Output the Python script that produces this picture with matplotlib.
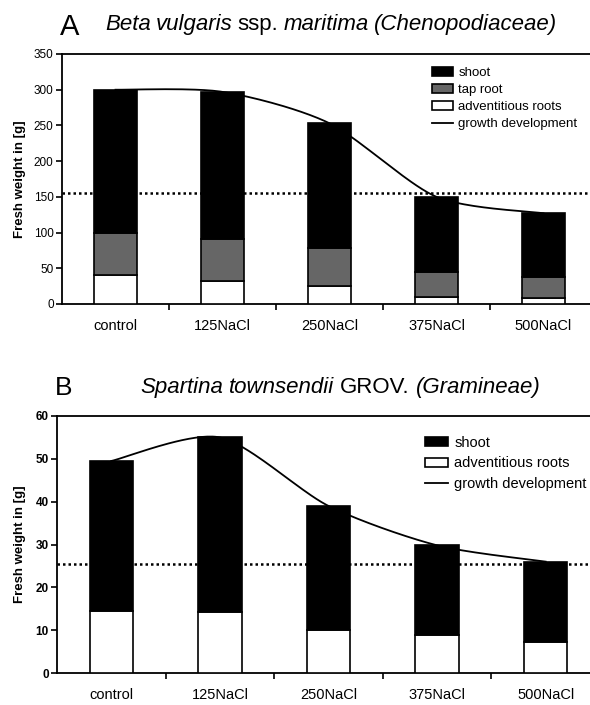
import numpy as np
import matplotlib.pyplot as plt
from matplotlib.patches import Patch
from matplotlib.lines import Line2D

plt.rcParams['font.family'] = ['Liberation Sans', 'DejaVu Sans']

treatments = ['control', '125NaCl', '250NaCl', '375NaCl', '500NaCl']

# Beta vulgaris ssp. maritima, fresh weight [g] per organ
beta_adventitious = [40, 32, 25, 10, 8]
beta_taproot = [60, 59, 53, 35, 30]
beta_shoot = [200, 206, 175, 105, 89]
beta_half = 155

# Spartina townsendii, fresh weight [g] per organ
spartina_adventitious = [14.5, 14.2, 10.0, 8.8, 7.2]
spartina_shoot = [35.0, 40.8, 29.0, 21.0, 18.8]
spartina_half = 25.5


def smooth_line(x, y, n=40, tension=0.4):
    # cardinal spline through the points, like a smoothed spreadsheet line
    x = np.asarray(x, float)
    y = np.asarray(y, float)
    px = np.r_[x[0], x, x[-1]]
    py = np.r_[y[0], y, y[-1]]
    t = np.linspace(0, 1, n)
    h00 = 2 * t ** 3 - 3 * t ** 2 + 1
    h10 = t ** 3 - 2 * t ** 2 + t
    h01 = -2 * t ** 3 + 3 * t ** 2
    h11 = t ** 3 - t ** 2
    xs, ys = [], []
    for i in range(1, len(px) - 2):
        for p, out in ((px, xs), (py, ys)):
            m1 = tension * (p[i + 1] - p[i - 1])
            m2 = tension * (p[i + 2] - p[i])
            out.append(h00 * p[i] + h10 * m1 + h01 * p[i + 1] + h11 * m2)
    return np.concatenate(xs), np.concatenate(ys)


def draw_panel(ax, layers, colors, labels, half, ymax, ystep, bold_ticks, legend_box, legend_fs, spacing):
    x = np.arange(len(treatments))
    total = np.sum(layers, axis=0)
    gx, gy = smooth_line(x, total)
    ax.plot(gx, gy, color='black', lw=1.3, zorder=1)
    ax.axhline(half, color='black', lw=1.8, ls=(0, (1, 1.2)), zorder=1)
    bottom = np.zeros(len(x))
    for vals, c in zip(layers, colors):
        ax.bar(x, vals, 0.4, bottom=bottom, color=c, edgecolor='black', lw=1.2, zorder=3)
        bottom = bottom + np.asarray(vals)
    ax.set_xlim(-0.5, 4.5)
    ax.set_ylim(0, ymax)
    ax.set_yticks(np.arange(0, ymax + 1, ystep))
    ax.set_xticks(np.arange(0.5, 4.5, 1))
    ax.set_xticklabels([])
    ax.set_xticks(x, minor=True)
    ax.set_xticklabels(treatments, minor=True, fontsize=10.5)
    ax.tick_params(axis='x', which='major', length=4, width=1.2)
    ax.tick_params(axis='x', which='minor', length=0, pad=11)
    ax.tick_params(axis='y', length=4, width=1.2, labelsize=8.5, pad=2)
    if bold_ticks:
        for lb in ax.get_yticklabels():
            lb.set_fontweight('bold')
    for s in ax.spines.values():
        s.set_linewidth(1.3)
    ax.set_ylabel('Fresh weight in [g]', fontsize=9.5, fontweight='bold')
    handles = [Patch(facecolor=c, edgecolor='black', lw=1.2) for c in colors][::-1]
    handles.append(Line2D([], [], color='black', lw=1.3))
    ax.legend(handles, labels, loc='upper left', bbox_to_anchor=legend_box,
              bbox_transform=ax.figure.transFigure, frameon=False, fontsize=legend_fs,
              handlelength=1.6, handleheight=0.6, handletextpad=0.4,
              labelspacing=spacing, borderpad=0, borderaxespad=0)


def title_line(fig, x_px, y_px, parts, fontsize, gap=5):
    # words set one after another so italic and upright pieces can mix
    r = fig.canvas.get_renderer()
    x = x_px
    for word, style in parts:
        t = fig.text(x / 590, 1 - y_px / 705, word, fontsize=fontsize,
                     style=style, va='baseline')
        x += t.get_window_extent(renderer=r).width + gap


fig = plt.figure(figsize=(5.9, 7.05), dpi=100)

ax1 = fig.add_axes([62 / 590, 1 - 304 / 705, 535 / 590, 250 / 705])
draw_panel(ax1, [beta_adventitious, beta_taproot, beta_shoot],
           ['white', '#666666', 'black'],
           ['shoot', 'tap root', 'adventitious roots', 'growth development'],
           beta_half, 350, 50, False, (432 / 590, 1 - 67 / 705), 9.5, 0.38)
ax1.yaxis.set_label_coords(-0.067, 0.5)

ax2 = fig.add_axes([57 / 590, 1 - 673 / 705, 543 / 590, 257 / 705])
draw_panel(ax2, [spartina_adventitious, spartina_shoot],
           ['white', 'black'],
           ['shoot', 'adventitious roots', 'growth development'],
           spartina_half, 60, 10, True, (425 / 590, 1 - 436 / 705), 10.5, 0.44)
ax2.yaxis.set_label_coords(-0.057, 0.5)

fig.text(60 / 590, 1 - 35 / 705, 'A', fontsize=21, va='baseline')
title_line(fig, 105, 30, [('Beta', 'italic'), ('vulgaris', 'italic'), ('ssp.', 'normal'),
                          ('maritima', 'italic'), ('(Chenopodiaceae)', 'italic')], 16)
fig.text(55 / 590, 1 - 395 / 705, 'B', fontsize=19, va='baseline')
title_line(fig, 140, 393, [('Spartina', 'italic'), ('townsendii', 'italic'),
                           ('GROV.', 'normal'), ('(Gramineae)', 'italic')], 16, gap=6)

fig.savefig('out.png', dpi=100)
